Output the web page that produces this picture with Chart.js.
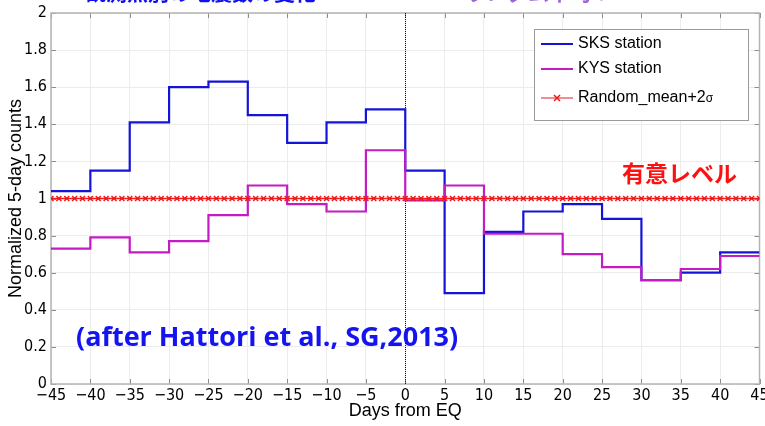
<!DOCTYPE html>
<html>
<head>
<meta charset="utf-8">
<script src="https://cdn.jsdelivr.net/npm/chart.js@4"></script>
<style>
  html, body { margin: 0; padding: 0; background: #fff; }
  #countChart { display: block; }
</style>
</head>
<body>
<canvas id="countChart" width="765" height="426"></canvas>
<script>
// 5-day bins, days from the earthquake
var binEdges = [-45, -40, -35, -30, -25, -20, -15, -10, -5, 0, 5, 10, 15, 20, 25, 30, 35, 40, 45];
var sksCounts = [1.04, 1.15, 1.41, 1.60, 1.63, 1.45, 1.30, 1.41, 1.48, 1.15, 0.49, 0.82, 0.93, 0.97, 0.89, 0.56, 0.60, 0.71];
var kysCounts = [0.73, 0.79, 0.71, 0.77, 0.91, 1.07, 0.97, 0.93, 1.26, 0.99, 1.07, 0.81, 0.81, 0.70, 0.63, 0.56, 0.62, 0.69];

// random_mean + 2 sigma, one value per day
var randomDays = [
  -45, -44, -43, -42, -41, -40, -39, -38, -37, -36, -35, -34, -33, -32, -31, -30,
  -29, -28, -27, -26, -25, -24, -23, -22, -21, -20, -19, -18, -17, -16, -15, -14,
  -13, -12, -11, -10, -9, -8, -7, -6, -5, -4, -3, -2, -1, 0, 1, 2, 3, 4, 5, 6, 7,
  8, 9, 10, 11, 12, 13, 14, 15, 16, 17, 18, 19, 20, 21, 22, 23, 24, 25, 26, 27, 28,
  29, 30, 31, 32, 33, 34, 35, 36, 37, 38, 39, 40, 41, 42, 43, 44, 45
];
var randomLevel = [
  1, 1, 1, 1, 1, 1, 1, 1, 1, 1, 1, 1, 1, 1, 1, 1, 1, 1, 1, 1, 1, 1, 1, 1, 1, 1,
  1, 1, 1, 1, 1, 1, 1, 1, 1, 1, 1, 1, 1, 1, 1, 1, 1, 1, 1, 1, 1, 1, 1, 1, 1, 1,
  1, 1, 1, 1, 1, 1, 1, 1, 1, 1, 1, 1, 1, 1, 1, 1, 1, 1, 1, 1, 1, 1, 1, 1, 1, 1,
  1, 1, 1, 1, 1, 1, 1, 1, 1, 1, 1, 1, 1
];

var seriesNames = ["SKS station", "KYS station", "Random_mean+2"];
var eqDay = 0;

var tickFont = "'Liberation Sans Narrow', 'DejaVu Sans Condensed', sans-serif";
var labelFont = "'Liberation Sans', Arial, sans-serif";

function stepPoints(values) {
    var pts = values.map(function (v, i) { return { x: binEdges[i], y: v }; });
    pts.push({ x: binEdges[values.length], y: values[values.length - 1] });
    return pts;
}

var SKS_COLOR = "#1414d8";
var KYS_COLOR = "#c21cc2";
var RAND_COLOR = "#f01818";

// frame, inward ticks and the EQ marker line
var framePlugin = {
    id: "frame",
    beforeDatasetsDraw: function (chart) {
        var ctx = chart.ctx;
        var a = chart.chartArea;
        var xs = chart.scales.x, ys = chart.scales.y;
        ctx.save();
        ctx.strokeStyle = "#8c8c8c";
        ctx.lineWidth = 1;
        xs.ticks.forEach(function (t) {
            var px = Math.round(xs.getPixelForValue(t.value)) + 0.5;
            ctx.beginPath();
            ctx.moveTo(px, a.bottom); ctx.lineTo(px, a.bottom - 5);
            ctx.moveTo(px, a.top); ctx.lineTo(px, a.top + 5);
            ctx.stroke();
        });
        ys.ticks.forEach(function (t) {
            var py = Math.round(ys.getPixelForValue(t.value)) + 0.5;
            ctx.beginPath();
            ctx.moveTo(a.left, py); ctx.lineTo(a.left + 5, py);
            ctx.moveTo(a.right, py); ctx.lineTo(a.right - 5, py);
            ctx.stroke();
        });
        ctx.strokeStyle = "#b4b4b4";
        ctx.lineWidth = 1.5;
        ctx.strokeRect(a.left, a.top, a.right - a.left, a.bottom - a.top);

        var ex = Math.round(xs.getPixelForValue(eqDay)) + 0.5;
        ctx.strokeStyle = "#111";
        ctx.lineWidth = 1;
        ctx.setLineDash([1, 1]);
        ctx.beginPath();
        ctx.moveTo(ex, a.top); ctx.lineTo(ex, a.bottom);
        ctx.stroke();
        ctx.restore();
    }
};

// boxed legend inside the plot, plus the text notes
var notesPlugin = {
    id: "notes",
    afterDraw: function (chart) {
        var ctx = chart.ctx;
        ctx.save();

        // legend box
        var bx = 534, by = 29, bw = 214, bh = 91;
        ctx.fillStyle = "#fff";
        ctx.fillRect(bx, by, bw, bh);
        ctx.strokeStyle = "#9a9a9a";
        ctx.lineWidth = 1;
        ctx.strokeRect(bx + 0.5, by + 0.5, bw, bh);

        var rows = [
            { y: 44, color: SKS_COLOR, width: 2, marker: false },
            { y: 69, color: KYS_COLOR, width: 2, marker: false },
            { y: 98, color: RAND_COLOR, width: 1, marker: true }
        ];
        ctx.font = "16px " + labelFont;
        ctx.textBaseline = "middle";
        rows.forEach(function (r, i) {
            ctx.strokeStyle = r.color;
            ctx.lineWidth = r.width;
            ctx.beginPath();
            ctx.moveTo(541, r.y); ctx.lineTo(573, r.y);
            ctx.stroke();
            if (r.marker) {
                ctx.lineWidth = 1.5;
                ctx.beginPath();
                ctx.moveTo(554, r.y - 3); ctx.lineTo(560, r.y + 3);
                ctx.moveTo(560, r.y - 3); ctx.lineTo(554, r.y + 3);
                ctx.stroke();
            }
            ctx.fillStyle = "#000";
            ctx.fillText(seriesNames[i], 578, r.y);
            if (r.marker) {
                var w = ctx.measureText(seriesNames[i]).width;
                ctx.font = "12px " + labelFont;
                ctx.fillText("\u03c3", 578 + w, r.y + 1);
                ctx.font = "16px " + labelFont;
            }
        });

        // significance level note
        ctx.fillStyle = "#ff1010";
        ctx.font = "bold 23px 'Noto Sans CJK JP', sans-serif";
        ctx.textBaseline = "middle";
        ctx.fillText("有意レベル", 622, 173);

        // source note
        ctx.fillStyle = "#1414f0";
        ctx.font = "bold 27px 'Open Sans', Lato, sans-serif";
        ctx.fillText("(after Hattori et al., SG,2013)", 76, 338);

        // heading text running off the top edge
        ctx.textBaseline = "alphabetic";
        ctx.font = "bold 21px 'Noto Sans CJK JP', sans-serif";
        ctx.fillStyle = "#1010ee";
        ctx.fillText("観測点別の地震数の変化", 85, 0);
        ctx.fillStyle = "#9a66d8";
        ctx.fillText("ランダム平均＋２σ", 465, 0);

        ctx.restore();
    }
};

function fixWidth(w) {
    return function (scale) {
        scale.width = w;
        scale.paddingTop = 0; scale.paddingBottom = 0;
    };
}
function fixHeight(h) {
    return function (scale) {
        scale.height = h;
        scale.paddingLeft = 0; scale.paddingRight = 0;
    };
}

var config = {
    type: "line",
    data: {
        datasets: [
            {
                label: "Random_mean+2σ",
                data: randomDays.map(function (d, i) { return { x: d, y: randomLevel[i] }; }),
                borderColor: RAND_COLOR,
                backgroundColor: RAND_COLOR,
                borderWidth: 1.6,
                pointStyle: "crossRot",
                pointRadius: 3.5,
                pointBorderWidth: 1.5,
                pointBorderColor: RAND_COLOR,
                fill: false,
                order: 0
            },
            {
                label: "KYS station",
                data: stepPoints(kysCounts),
                borderColor: KYS_COLOR,
                borderWidth: 2.2,
                stepped: true,
                pointRadius: 0,
                fill: false,
                order: 1
            },
            {
                label: "SKS station",
                data: stepPoints(sksCounts),
                borderColor: SKS_COLOR,
                borderWidth: 2.2,
                stepped: true,
                pointRadius: 0,
                fill: false,
                order: 2
            }
        ]
    },
    options: {
        responsive: false,
        animation: false,
        devicePixelRatio: 1,
        layout: { padding: { top: 13, right: 5, left: 0, bottom: 0 } },
        scales: {
            x: {
                type: "linear",
                min: -45,
                max: 45,
                afterFit: fixHeight(42),
                border: { display: false },
                grid: { color: "#ececec", lineWidth: 1, drawTicks: false },
                ticks: {
                    stepSize: 5,
                    autoSkip: false,
                    maxRotation: 0,
                    padding: 2,
                    color: "#000",
                    font: { family: tickFont, size: 16 },
                    callback: function (v) { return String(v).replace("-", "\u2212"); }
                },
                title: {
                    display: true,
                    text: "Days from EQ",
                    color: "#000",
                    font: { family: labelFont, size: 18 },
                    padding: { top: 0, bottom: 4 }
                }
            },
            y: {
                min: 0,
                max: 2,
                afterFit: fixWidth(51),
                border: { display: false },
                grid: { color: "#ececec", lineWidth: 1, drawTicks: false },
                ticks: {
                    stepSize: 0.2,
                    padding: 4,
                    color: "#000",
                    font: { family: tickFont, size: 16 },
                    callback: function (v) { return String(parseFloat(v.toFixed(1))); }
                },
                title: {
                    display: true,
                    text: "Normalized 5-day counts",
                    color: "#000",
                    font: { family: labelFont, size: 18 },
                    padding: { top: 5, bottom: 0 }
                }
            }
        },
        plugins: {
            legend: { display: false },
            tooltip: { enabled: false }
        }
    },
    plugins: [framePlugin, notesPlugin]
};

var ctx = document.getElementById("countChart").getContext("2d");
var chart = new Chart(ctx, config);
</script>
</body>
</html>
